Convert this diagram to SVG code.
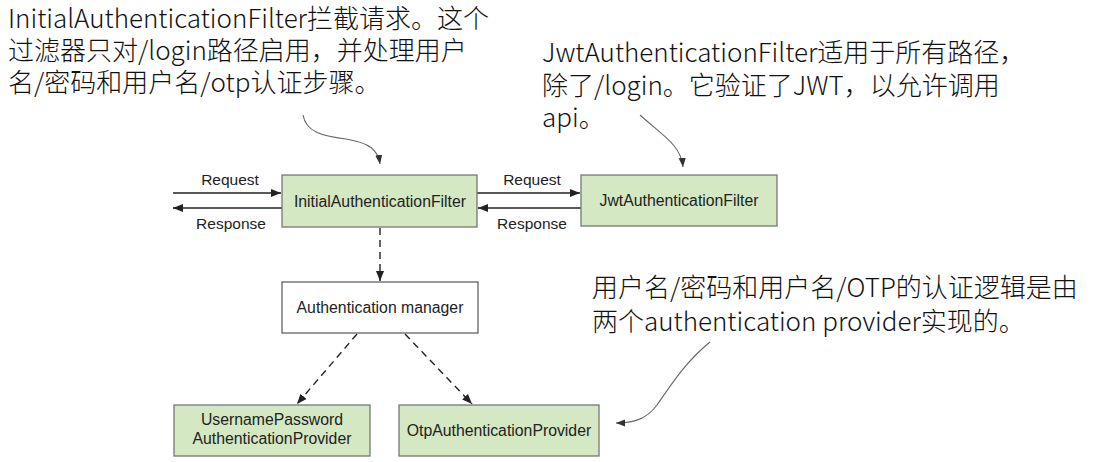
<svg xmlns="http://www.w3.org/2000/svg" width="1103" height="462" viewBox="0 0 1103 462">
<style>
.box{fill:#d4e8c3;stroke:#777;stroke-width:1.3}
.wbox{fill:#fff;stroke:#555;stroke-width:1.2}
.bt{font-family:"Liberation Sans",Arial,sans-serif;font-size:15.8px;fill:#222;text-anchor:middle}
.lbl{font-family:"Liberation Sans",Arial,sans-serif;font-size:15.5px;fill:#222;text-anchor:middle}
.ann{font-family:"Noto Sans CJK SC","Noto Sans",sans-serif;font-size:26px;fill:#111;font-weight:300}
.ln{stroke:#222;stroke-width:1.4;fill:none}
.dash{stroke:#222;stroke-width:1.4;fill:none;stroke-dasharray:7 5}
.curve{stroke:#666;stroke-width:1.1;fill:none}
</style>
<defs>
<marker id="ah" viewBox="0 0 10 10" refX="10" refY="5" markerWidth="10" markerHeight="10" markerUnits="userSpaceOnUse" orient="auto">
<path d="M0,1 L10,5 L0,9 Z" fill="#222"/>
</marker>
<marker id="ahs" viewBox="0 0 10 10" refX="10" refY="5" markerWidth="9" markerHeight="9" markerUnits="userSpaceOnUse" orient="auto">
<path d="M0,1 L10,5 L0,9 Z" fill="#333"/>
</marker>
</defs>
<g id="connectors">
<line class="ln" x1="173" y1="193" x2="281" y2="193" marker-end="url(#ah)"/>
<line class="ln" x1="282" y1="208" x2="173" y2="208" marker-end="url(#ah)"/>
<line class="ln" x1="477" y1="193" x2="580" y2="193" marker-end="url(#ah)"/>
<line class="ln" x1="581" y1="208" x2="478" y2="208" marker-end="url(#ah)"/>
<line class="dash" x1="380" y1="228" x2="380" y2="281" marker-end="url(#ah)"/>
<line class="dash" x1="357" y1="334" x2="297" y2="404" marker-end="url(#ah)"/>
<line class="dash" x1="405" y1="334" x2="472" y2="404" marker-end="url(#ah)"/>
<path class="curve" d="M303,115 C306,132 322,136 346,139 C370,143 378,150 380,164" marker-end="url(#ahs)"/>
<path class="curve" d="M640,115 C662,135 681,145 683,167" marker-end="url(#ahs)"/>
<path class="curve" d="M710,342 C682,365 668,390 657,405 C646,420 632,423 616,423" marker-end="url(#ahs)"/>
<text class="lbl" x="230" y="185">Request</text>
<text class="lbl" x="231" y="229">Response</text>
<text class="lbl" x="532" y="185">Request</text>
<text class="lbl" x="532" y="229">Response</text>
</g>
<g id="initial-filter">
<rect class="box" x="282" y="175" width="195" height="52"/>
<text class="bt" x="380" y="207">InitialAuthenticationFilter</text>
</g>
<g id="jwt-filter">
<rect class="box" x="581" y="175" width="196" height="51"/>
<text class="bt" x="679" y="206">JwtAuthenticationFilter</text>
</g>
<g id="auth-manager">
<rect class="wbox" x="282" y="282" width="196" height="51"/>
<text class="bt" x="380" y="313">Authentication manager</text>
</g>
<g id="username-provider">
<rect class="box" x="174" y="405" width="196" height="51"/>
<text class="bt" x="272" y="425"><tspan x="272" y="425">UsernamePassword</tspan><tspan x="272" y="444">AuthenticationProvider</tspan></text>
</g>
<g id="otp-provider">
<rect class="box" x="399" y="405" width="200" height="51"/>
<text class="bt" x="499" y="436">OtpAuthenticationProvider</text>
</g>
<g id="annotations">
<text class="ann" x="8" y="28"><tspan x="8" y="28">InitialAuthenticationFilter拦截请求。这个</tspan><tspan x="8" y="60">过滤器只对/login路径启用，并处理用户</tspan><tspan x="8" y="92">名/密码和用户名/otp认证步骤。</tspan></text>
<text class="ann" x="542" y="62"><tspan x="542" y="62">JwtAuthenticationFilter适用于所有路径，</tspan><tspan x="542" y="95">除了/login。它验证了JWT，以允许调用</tspan><tspan x="542" y="127">api。</tspan></text>
<text class="ann" x="592" y="297"><tspan x="592" y="297">用户名/密码和用户名/OTP的认证逻辑是由</tspan><tspan x="592" y="331">两个authentication provider实现的。</tspan></text>
</g>
</svg>
